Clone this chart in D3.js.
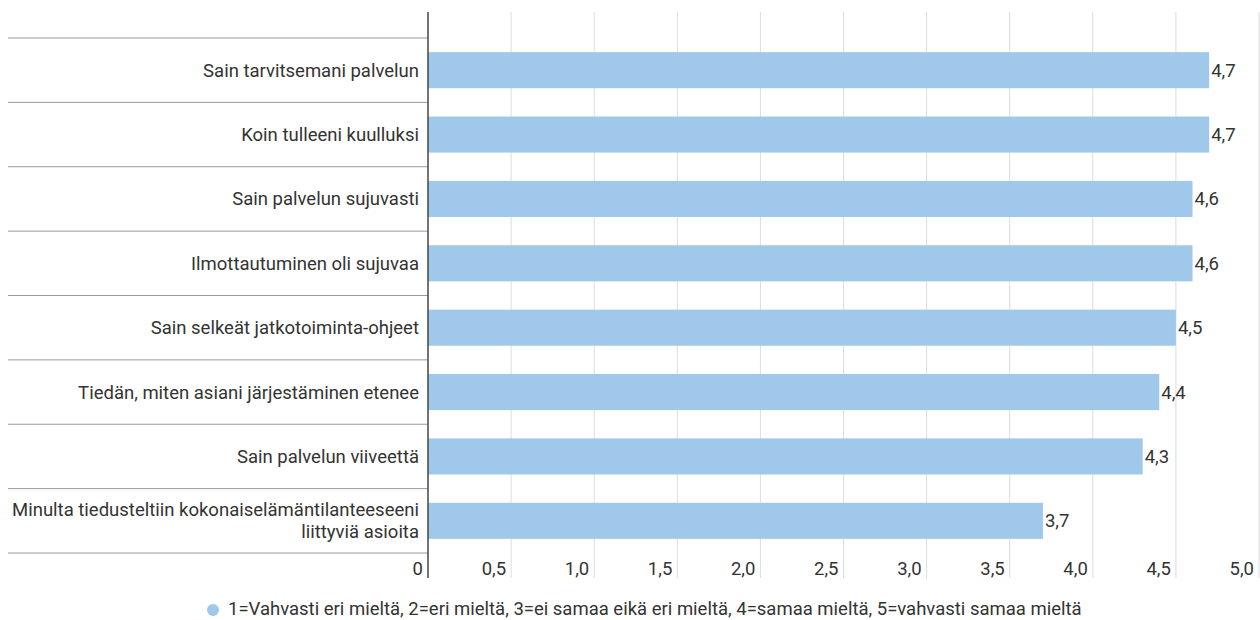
<!DOCTYPE html>
<html><head><meta charset="utf-8">
<script src="https://cdn.jsdelivr.net/npm/d3@7"></script>
<style>
html,body{margin:0;padding:0;background:#fff;}
text{font-family:Roboto,"Noto Sans",sans-serif;fill:#333;}
</style></head>
<body><svg id="c" width="1260" height="620"></svg>
<script>
const categories = [
  ["Sain tarvitsemani palvelun"],
  ["Koin tulleeni kuulluksi"],
  ["Sain palvelun sujuvasti"],
  ["Ilmottautuminen oli sujuvaa"],
  ["Sain selkeät jatkotoiminta-ohjeet"],
  ["Tiedän, miten asiani järjestäminen etenee"],
  ["Sain palvelun viiveettä"],
  ["Minulta tiedusteltiin kokonaiselämäntilanteeseeni", "liittyviä asioita"]
];
const values = [4.7, 4.7, 4.6, 4.6, 4.5, 4.4, 4.3, 3.7];
const tickValues = [0, 0.5, 1.0, 1.5, 2.0, 2.5, 3.0, 3.5, 4.0, 4.5, 5.0];
const legendLabel = "1=Vahvasti eri mieltä, 2=eri mieltä, 3=ei samaa eikä eri mieltä, 4=samaa mieltä, 5=vahvasti samaa mieltä";

const FS = 18.5;
const svg = d3.select("#c");
const x0 = 428, x1 = 1259, yTop = 12, yBot = 578;
const x = d3.scaleLinear().domain([0, 5]).range([x0, x1]);
const idx = d3.range(categories.length);
const y = d3.scaleBand().domain(idx).range([38, 553]).paddingInner(0.44).paddingOuter(0.22);
const fmt = v => v === 0 ? "0" : d3.format(".1f")(v).replace(".", ",");

// grid
svg.append("g").selectAll("line").data(tickValues.filter(v => v > 0)).join("line")
  .attr("x1", d => x(d)).attr("x2", d => x(d))
  .attr("y1", yTop).attr("y2", yBot)
  .attr("stroke", "#dcdcdc").attr("stroke-width", 1);

// row separators
const sep = d3.range(categories.length + 1).map(i => 38 + i * (553 - 38) / categories.length);
svg.append("g").selectAll("line").data(sep).join("line")
  .attr("x1", 8).attr("x2", x0).attr("y1", d => d).attr("y2", d => d)
  .attr("stroke", "#9a9a9a").attr("stroke-width", 1);

// bars
svg.append("g").selectAll("rect").data(values).join("rect")
  .attr("x", x(0)).attr("y", (d, i) => y(i))
  .attr("width", d => x(d) - x(0)).attr("height", y.bandwidth())
  .attr("fill", "#9fc8ea");

// value labels
svg.append("g").selectAll("text").data(values).join("text")
  .attr("x", d => x(d) + 2).attr("y", (d, i) => y(i) + y.bandwidth() / 2)
  .attr("dy", "0.35em").attr("font-size", FS)
  .text(d => fmt(d));

// category labels
const bandH = (553 - 38) / categories.length;
const cl = svg.append("g").selectAll("text").data(categories).join("text")
  .attr("text-anchor", "end").attr("font-size", FS)
  .attr("x", 419)
  .attr("y", (d, i) => 38 + bandH * (i + 0.5));
cl.each(function(d) {
  const t = d3.select(this);
  const n = d.length, lh = 22;
  d.forEach((s, k) => {
    t.append("tspan").attr("x", 419)
      .attr("dy", k === 0 ? ((-(n - 1) * lh / 2) / FS + 0.35) + "em" : lh + "px")
      .text(s);
  });
});

// axis tick labels
svg.append("g").selectAll("text").data(tickValues).join("text")
  .attr("text-anchor", "end").attr("font-size", FS)
  .attr("x", d => x(d) - 5).attr("y", 569).attr("dy", "0.35em")
  .text(d => fmt(d));

// y axis line
svg.append("line").attr("x1", x0).attr("x2", x0).attr("y1", yTop).attr("y2", yBot)
  .attr("stroke", "#444").attr("stroke-width", 1.5);

// legend
svg.append("circle").attr("cx", 213).attr("cy", 610).attr("r", 6).attr("fill", "#9fc8ea");
svg.append("text").attr("x", 228).attr("y", 609).attr("dy", "0.35em").attr("font-size", FS)
  .text(legendLabel);
</script></body></html>
